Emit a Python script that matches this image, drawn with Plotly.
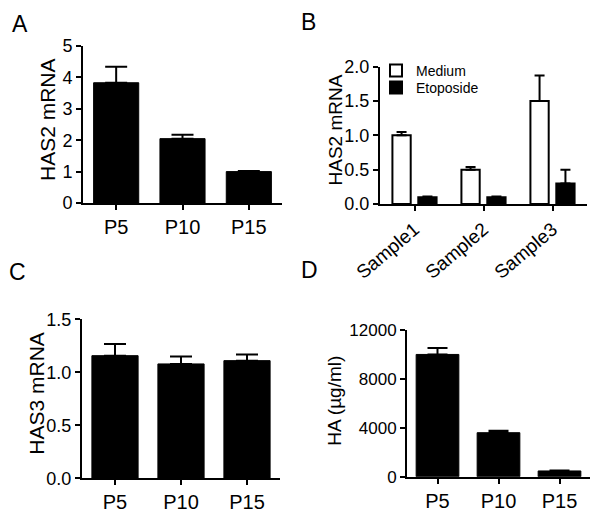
import plotly.graph_objects as go

# page has an 8px body margin; shift everything by it
OFF = 8
W, H = 602 - OFF, 514 - OFF
FONT = "Liberation Sans, Arial, Helvetica, sans-serif"

# Panel A
a_cats = ["P5", "P10", "P15"]
a_vals = [3.83, 2.05, 1.0]
a_err = [0.51, 0.12, 0.02]
a_yticks = [0, 1, 2, 3, 4, 5]

# Panel B
b_cats = ["Sample1", "Sample2", "Sample3"]
b_medium = [1.0, 0.5, 1.5]
b_medium_err = [0.05, 0.04, 0.37]
b_etoposide = [0.1, 0.1, 0.3]
b_etoposide_err = [0.008, 0.008, 0.2]
b_yticks = [0.0, 0.5, 1.0, 1.5, 2.0]
b_ytext = ["0.0", "0.5", "1.0", "1.5", "2.0"]

# Panel C
c_cats = ["P5", "P10", "P15"]
c_vals = [1.157, 1.079, 1.11]
c_err = [0.11, 0.07, 0.057]
c_yticks = [0.0, 0.5, 1.0, 1.5]
c_ytext = ["0.0", "0.5", "1.0", "1.5"]

# Panel D
d_cats = ["P5", "P10", "P15"]
d_vals = [10000, 3600, 470]
d_err = [520, 160, 30]
d_yticks = [0, 4000, 8000, 12000]
d_ytext = ["0", "4000", "8000", "12000"]


def px_x(x):
    return (x - OFF) / W


def px_y(y):
    return 1 - (y - OFF) / H


def err(arr, cap):
    return dict(type="data", symmetric=False, array=arr, arrayminus=[0] * len(arr),
                color="black", thickness=2, width=cap, visible=True)


fig = go.Figure()

fig.add_trace(go.Bar(x=a_cats, y=a_vals, error_y=err(a_err, 11), width=0.68,
                     marker=dict(color="black", line=dict(color="black", width=1)),
                     showlegend=False, xaxis="x", yaxis="y"))

fig.add_trace(go.Bar(x=b_cats, y=b_medium, error_y=err(b_medium_err, 5), name="Medium",
                     width=0.265, offset=-0.32, legend="legend",
                     marker=dict(color="white", line=dict(color="black", width=2)),
                     xaxis="x2", yaxis="y2"))
fig.add_trace(go.Bar(x=b_cats, y=b_etoposide, error_y=err(b_etoposide_err, 5), name="Etoposide",
                     width=0.265, offset=0.055, legend="legend2",
                     marker=dict(color="black", line=dict(color="black", width=2)),
                     xaxis="x2", yaxis="y2"))

fig.add_trace(go.Bar(x=c_cats, y=c_vals, error_y=err(c_err, 11), width=0.70,
                     marker=dict(color="black", line=dict(color="black", width=1)),
                     showlegend=False, xaxis="x3", yaxis="y3"))

fig.add_trace(go.Bar(x=d_cats, y=d_vals, error_y=err(d_err, 10), width=0.70,
                     marker=dict(color="black", line=dict(color="black", width=1)),
                     showlegend=False, xaxis="x4", yaxis="y4"))

common_x = dict(showline=True, linecolor="black", linewidth=2, ticks="outside",
                ticklen=5, tickwidth=2, tickcolor="black", showgrid=False,
                zeroline=False, range=[-0.5, 2.5], fixedrange=True, automargin=False,
                tickfont=dict(size=20, color="black", family=FONT))
common_y = dict(showline=True, linecolor="black", linewidth=2, ticks="outside",
                ticklen=5, tickwidth=2, tickcolor="black", showgrid=False,
                zeroline=False, fixedrange=True, automargin=False,
                tickfont=dict(size=18, color="black", family=FONT))

leg_common = dict(xanchor="left", yanchor="middle", bgcolor="rgba(0,0,0,0)",
                  font=dict(size=14, color="black", family=FONT), itemclick=False,
                  itemdoubleclick=False)

layout = dict(
    width=W, height=H, margin=dict(l=0, r=0, t=0, b=0, pad=0), autosize=False,
    paper_bgcolor="white", plot_bgcolor="white", barmode="overlay",
    font=dict(family=FONT, color="black"),
    xaxis=dict(common_x, domain=[px_x(83), px_x(282)], anchor="y"),
    yaxis=dict(common_y, domain=[px_y(203), px_y(46)], anchor="x", range=[0, 5],
               tickvals=a_yticks),
    xaxis2=dict(common_x, domain=[px_x(380), px_x(587)], anchor="y2", tickangle=-40,
                tickfont=dict(size=19, color="black", family=FONT)),
    yaxis2=dict(common_y, domain=[px_y(204), px_y(66.7)], anchor="x2", range=[0, 2],
                tickvals=b_yticks, ticktext=b_ytext),
    xaxis3=dict(common_x, domain=[px_x(82), px_x(280)], anchor="y3"),
    yaxis3=dict(common_y, domain=[px_y(478.3), px_y(319.3)], anchor="x3", range=[0, 1.5],
                tickvals=c_yticks, ticktext=c_ytext),
    xaxis4=dict(common_x, domain=[px_x(407), px_x(590)], anchor="y4"),
    yaxis4=dict(common_y, domain=[px_y(476.7), px_y(330)], anchor="x4", range=[0, 12000],
                tickvals=d_yticks, ticktext=d_ytext,
                tickfont=dict(size=17, color="black", family=FONT)),
    legend=dict(leg_common, x=px_x(376), y=px_y(71)),
    legend2=dict(leg_common, x=px_x(376), y=px_y(88)),
)
fig.update_layout(**layout)

titles = [
    ("HAS2 mRNA", 47, 120, 21),
    ("HAS2 mRNA", 335, 130.5, 19),
    ("HAS3 mRNA", 37, 393.7, 21),
    ("HA (µg/ml)", 335, 400.8, 19),
]
for txt, x, y, s in titles:
    fig.add_annotation(text=txt, x=px_x(x), y=px_y(y), xref="paper", yref="paper",
                       xanchor="center", yanchor="middle", textangle=-90, showarrow=False,
                       font=dict(size=s, color="black", family=FONT))

letters = [("A", 20, 24), ("B", 308, 22.5), ("C", 17, 272), ("D", 309, 270)]
for txt, x, y in letters:
    fig.add_annotation(text=txt, x=px_x(x), y=px_y(y), xref="paper", yref="paper",
                       xanchor="center", yanchor="middle", showarrow=False,
                       font=dict(size=23, color="black", family=FONT))

fig.write_html("out.html")
